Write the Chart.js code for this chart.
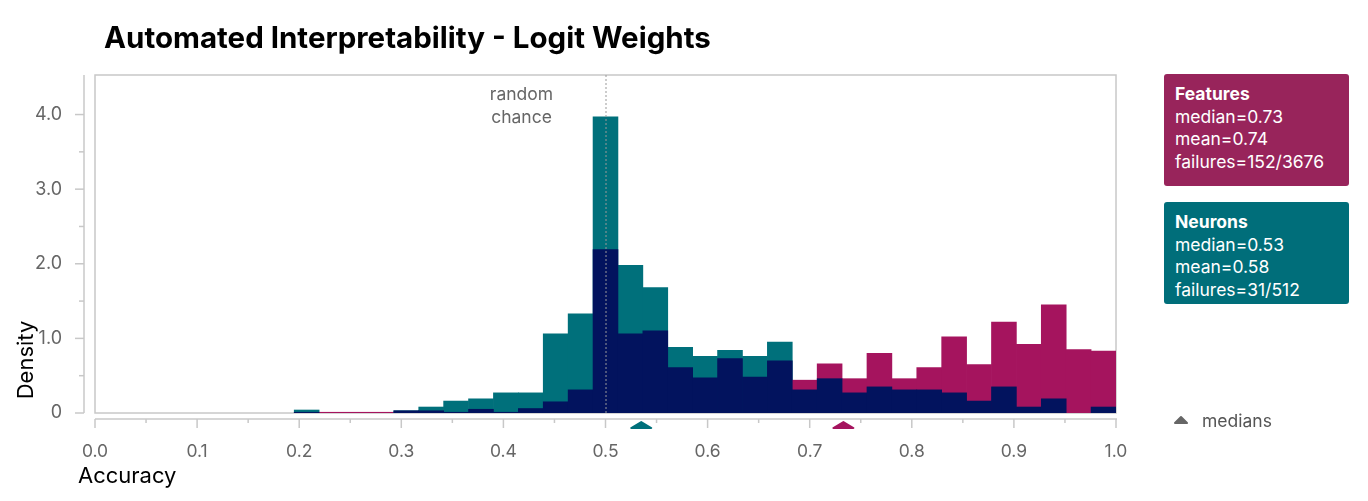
<!DOCTYPE html>
<html>
<head>
<meta charset="utf-8">
<script src="https://cdn.jsdelivr.net/npm/chart.js@4.4.1/dist/chart.umd.min.js"></script>
<style>
  body { margin: 0; background: #fff; font-family: Inter, sans-serif; }
  #wrap { position: relative; width: 1368px; height: 501px; }
  #title { position: absolute; left: 104px; top: 19px; font-size: 29.5px; font-weight: 700; color: #000; }
  .box { position: absolute; left: 1164px; width: 174px; padding: 9px 0 0 11px; color: #fff; font-size: 17.5px; line-height: 22.5px; border-radius: 3px; }
  .box b { font-weight: 700; }
  #legMed { position: absolute; left: 1202px; top: 410px; font-size: 17.5px; color: #555; }
</style>
</head>
<body>
<div id="wrap">
  <canvas id="c" width="1368" height="501"></canvas>
  <div id="title">Automated Interpretability - Logit Weights</div>
  <div class="box" style="top:74px;height:103px;background:#98245b"><b>Features</b><br>median=0.73<br>mean=0.74<br>failures=152/3676</div>
  <div class="box" style="top:202px;height:93px;background:#006e7a"><b>Neurons</b><br>median=0.53<br>mean=0.58<br>failures=31/512</div>
  <div id="legMed">medians</div>
</div>
<script>
// 41 bins of width 1/41 between 0 and 1
const binCount = 41;
const neurons = [0,0,0,0,0,0,0,0,0.04,0,0,0,0.03,0.08,0.16,0.19,0.27,0.27,1.06,1.33,
  3.97,1.98,1.68,0.88,0.76,0.84,0.76,0.95,0.31,0.46,0.27,0.35,0.31,0.31,0.27,0.16,0.35,0.08,0.19,0,0.08];
const features = [0,0,0,0,0,0,0,0,0.01,0.01,0.01,0.01,0.03,0.03,0.01,0.05,0.01,0.06,0.15,0.31,
  2.19,1.06,1.10,0.61,0.47,0.73,0.48,0.70,0.44,0.66,0.46,0.80,0.46,0.61,1.02,0.65,1.22,0.92,1.45,0.85,0.83];
const medians = [0.733, 0.535]; // features, neurons
const yTicks = [0, 1, 2, 3, 4];
const xTicks = [0, 0.1, 0.2, 0.3, 0.4, 0.5, 0.6, 0.7, 0.8, 0.9, 1.0];

const TEAL = '#00707b', NAVY = '#02135e', MAGENTA = '#a5145e', GREY = '#c8c8c8';

const centers = neurons.map((_, j) => (j + 0.5) / binCount);
const nz = v => v > 0 ? v : null;
const upper = centers.map((x, j) => ({ x, y: nz(Math.max(neurons[j], features[j])) }));
const lower = centers.map((x, j) => ({ x, y: nz(Math.min(neurons[j], features[j])) }));
const upperColors = neurons.map((n, j) => n >= features[j] ? TEAL : MAGENTA);

function tri(ctx, x, y, w, h, color) {
  ctx.fillStyle = color;
  ctx.strokeStyle = color;
  ctx.lineJoin = 'round';
  ctx.lineWidth = 2;
  ctx.beginPath();
  ctx.moveTo(x - w / 2, y + h);
  ctx.lineTo(x, y);
  ctx.lineTo(x + w / 2, y + h);
  ctx.closePath();
  ctx.fill();
  ctx.stroke();
}

const decor = {
  id: 'decor',
  beforeDatasetsDraw(chart) {
    const { ctx, chartArea: a } = chart;
    ctx.save();
    ctx.strokeStyle = GREY; ctx.lineWidth = 1.5;
    ctx.strokeRect(a.left, a.top, a.right - a.left, a.bottom - a.top);
    ctx.restore();
  },
  afterDatasetsDraw(chart) {
    const { ctx, chartArea: a, scales: { x, y } } = chart;
    ctx.save();
    // random chance line
    const xr = x.getPixelForValue(0.5);
    ctx.strokeStyle = '#999'; ctx.lineWidth = 1; ctx.setLineDash([2, 2]);
    ctx.beginPath(); ctx.moveTo(xr + 0.5, a.top); ctx.lineTo(xr + 0.5, a.bottom); ctx.stroke();
    ctx.setLineDash([]);
    ctx.fillStyle = '#666'; ctx.font = '17.5px Inter'; ctx.textAlign = 'center'; ctx.textBaseline = 'middle';
    ctx.fillText('random', xr - 84, 95);
    ctx.fillText('chance', xr - 84, 118);
    // y axis
    ctx.strokeStyle = GREY; ctx.lineWidth = 1.5;
    const ax = a.left - 11;
    ctx.beginPath(); ctx.moveTo(ax, a.top); ctx.lineTo(ax, a.bottom); ctx.stroke();
    for (let v = 0; v <= 4; v += 0.5) {
      const py = y.getPixelForValue(v);
      const len = Number.isInteger(v) ? 9 : 5;
      ctx.beginPath(); ctx.moveTo(ax - len, py); ctx.lineTo(ax, py); ctx.stroke();
    }
    // x axis
    const ay = a.bottom + 6;
    ctx.beginPath(); ctx.moveTo(a.left, ay); ctx.lineTo(a.right + 1, ay); ctx.stroke();
    for (let i = 0; i <= 20; i++) {
      const px = x.getPixelForValue(i / 20);
      const len = i % 2 === 0 ? 9 : 4;
      ctx.beginPath(); ctx.moveTo(px, ay); ctx.lineTo(px, ay + len); ctx.stroke();
    }
    // median markers
    tri(ctx, x.getPixelForValue(medians[1]), a.bottom + 9, 20, 6, TEAL);
    tri(ctx, x.getPixelForValue(medians[0]), a.bottom + 9, 20, 6, MAGENTA);
    tri(ctx, 1181, 417, 12, 6, '#666');
    // axis titles
    ctx.fillStyle = '#000'; ctx.font = '22px Inter';
    ctx.textAlign = 'left'; ctx.textBaseline = 'middle';
    ctx.fillText('Accuracy', 78, 476);
    ctx.translate(26, 360); ctx.rotate(-Math.PI / 2);
    ctx.textAlign = 'center';
    ctx.fillText('Density', 0, 0);
    ctx.restore();
  }
};

new Chart(document.getElementById('c'), {
  type: 'bar',
  data: {
    datasets: [
      { data: lower, backgroundColor: NAVY, order: 1, grouped: false,
        barPercentage: 1, categoryPercentage: 1, borderWidth: 0 },
      { data: upper, backgroundColor: upperColors, order: 2, grouped: false,
        barPercentage: 1, categoryPercentage: 1, borderWidth: 0 }
    ]
  },
  options: {
    responsive: false, animation: false,
    layout: { padding: { left: 0, right: 252, top: 75, bottom: 0 } },
    plugins: { legend: { display: false }, tooltip: { enabled: false } },
    scales: {
      x: {
        type: 'linear', min: 0, max: 1, offset: false,
        border: { display: false }, grid: { display: false },
        afterFit: s => { s.height = 88; },
        afterBuildTicks: s => { s.ticks = xTicks.map(value => ({ value })); },
        ticks: { padding: 20, color: '#666', font: { family: 'Inter', size: 17.5 },
          maxRotation: 0, callback: v => v.toFixed(1) }
      },
      y: {
        min: 0, max: 4.53,
        border: { display: false }, grid: { display: false },
        afterFit: s => { s.width = 95; },
        afterBuildTicks: s => { s.ticks = yTicks.map(value => ({ value })); },
        ticks: { padding: 25, color: '#666', font: { family: 'Inter', size: 18 },
          callback: v => v === 0 ? '0' : v.toFixed(1) }
      }
    }
  },
  plugins: [decor]
});
</script>
</body>
</html>
